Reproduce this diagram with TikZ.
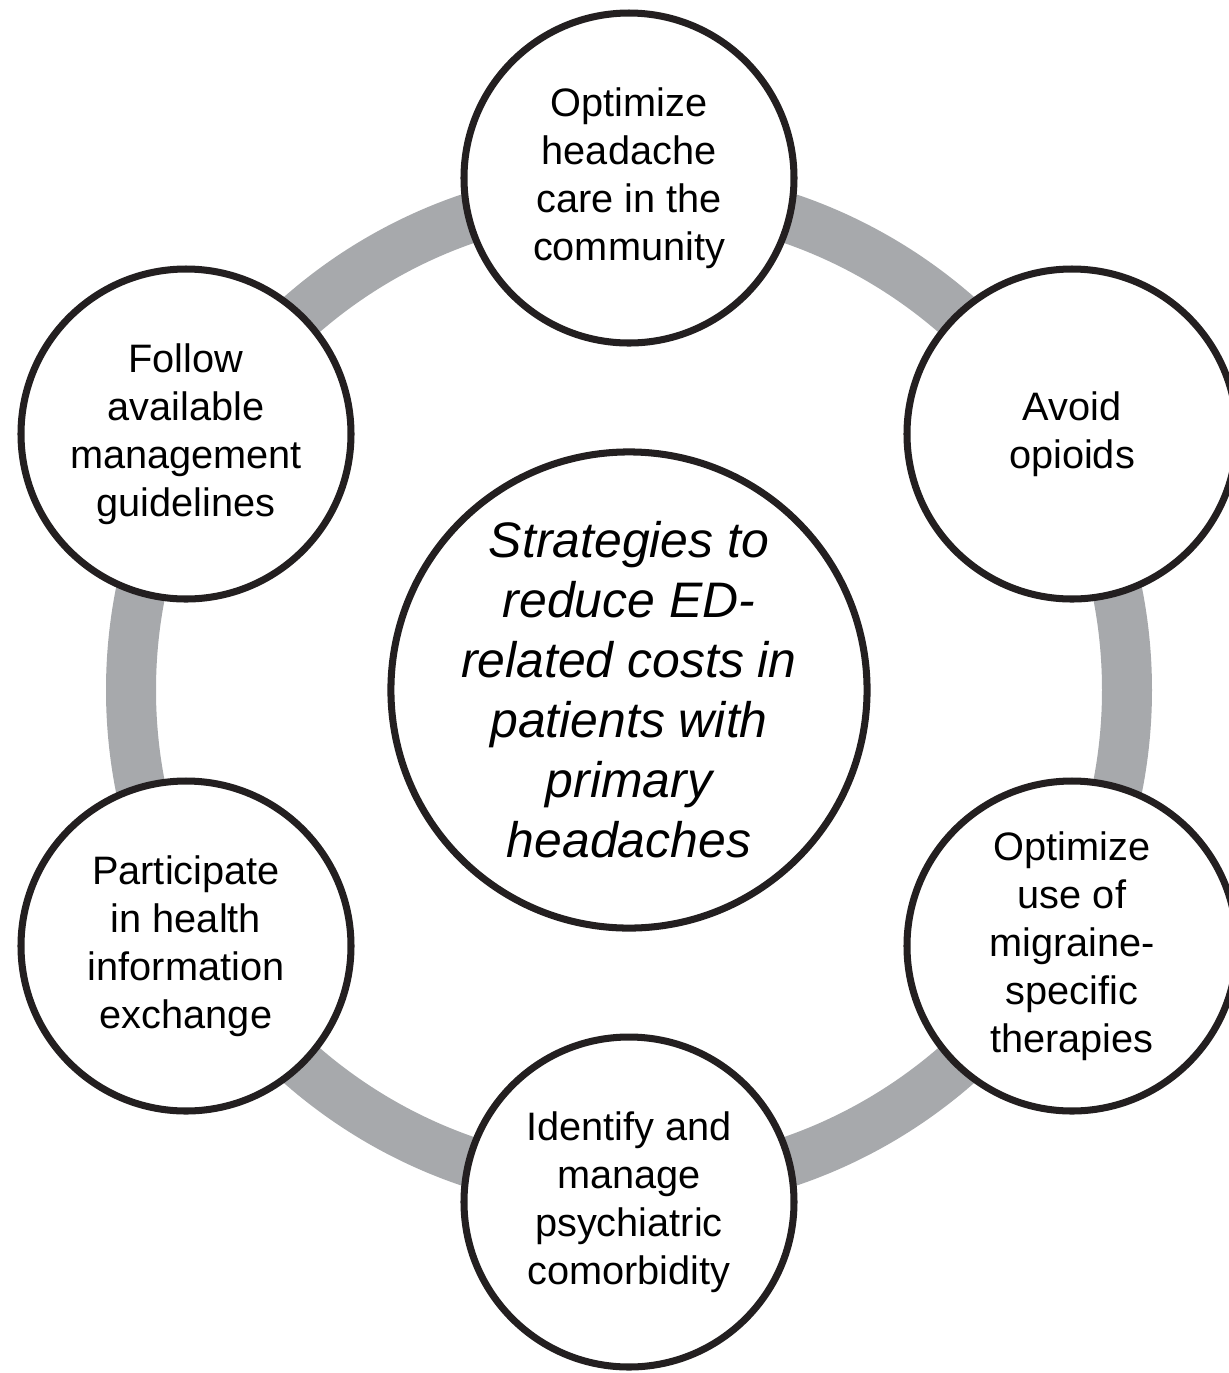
\documentclass[tikz,border=0pt]{standalone}
\usepackage{fontspec}
\setmainfont{Liberation Sans}
\usetikzlibrary{positioning}
\definecolor{ringgray}{RGB}{167,169,172}
\definecolor{inkblack}{RGB}{35,31,32}

\begin{document}
\begin{tikzpicture}[
    spoke/.style={circle, draw=inkblack, line width=2pt, fill=white,
      minimum size=3.3cm, inner sep=0pt, align=center,
      font=\fontsize{11.3}{13.66}\selectfont},
    hubnode/.style={circle, draw=inkblack, line width=2pt, fill=white,
      minimum size=4.7cm, inner sep=0pt, align=center,
      font=\itshape\fontsize{14.2}{17.07}\selectfont}]
  \useasboundingbox (0,0) rectangle (12.29,-13.73);

  % Draw the ring behind everything
  \coordinate (mid) at (6.29,-6.90);
  \draw[ringgray, line width=0.5cm] (mid) circle (4.98);

  % Centre circle
  \node[hubnode] (hub) at (mid) {Strategies to\\reduce ED-\\related costs in\\patients with\\primary\\headaches};

  % Circles round the ring
  \node[spoke] (care) at (6.29,-1.78) {Optimize\\headache\\care in the\\community};
  \node[spoke] (opioids) at (10.72,-4.34) {Avoid\\opioids};
  \node[spoke] (migraine) at (10.72,-9.46) {Optimize\\use of\\migraine-\\specific\\therapies};
  \node[spoke] (psych) at (6.29,-12.02) {Identify and\\manage\\psychiatric\\comorbidity};
  \node[spoke] (exchange) at (1.86,-9.46) {Participate\\in health\\information\\exchange};
  \node[spoke] (guide) at (1.86,-4.34) {Follow\\available\\management\\guidelines};

\end{tikzpicture}
\end{document}
